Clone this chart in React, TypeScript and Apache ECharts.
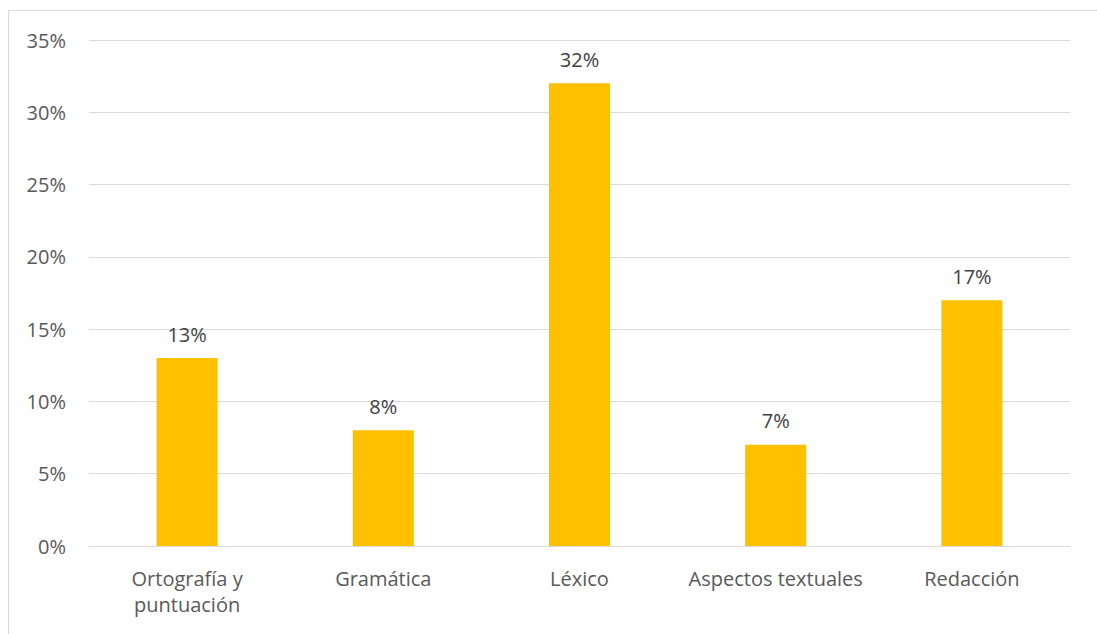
import React, { useEffect, useRef } from "react";
import * as echarts from "echarts";

const categories = ["Ortografía y\npuntuación", "Gramática", "Léxico", "Aspectos textuales", "Redacción"];
const values = [13, 8, 32, 7, 17];
const yTicks = [0, 5, 10, 15, 20, 25, 30, 35];

export default function App() {
  const ref = useRef<HTMLDivElement>(null);
  useEffect(() => {
    if (!ref.current) return;
    const chart = echarts.init(ref.current, undefined, { renderer: "svg" });
    const font = "'Open Sans', 'Noto Sans', sans-serif";
    chart.setOption({
      animation: false,
      textStyle: { fontFamily: font },
      graphic: [
        {
          type: "line",
          shape: { x1: 8.5, y1: 10.5, x2: 1097, y2: 10.5 },
          style: { stroke: "#d9d9d9", lineWidth: 1 },
          silent: true,
        },
        {
          type: "line",
          shape: { x1: 8.5, y1: 10.5, x2: 8.5, y2: 634 },
          style: { stroke: "#d9d9d9", lineWidth: 1 },
          silent: true,
        },
      ],
      grid: { left: 89, right: 27, top: 40, bottom: 88, containLabel: false },
      xAxis: {
        type: "category",
        data: categories,
        axisTick: { show: false },
        axisLine: { lineStyle: { color: "#d9d9d9", width: 1 } },
        axisLabel: {
          color: "#595959",
          fontSize: 20,
          fontFamily: font,
          margin: 19,
          lineHeight: 26,
          interval: 0,
        },
      },
      yAxis: {
        type: "value",
        min: 0,
        max: 35,
        interval: 5,
        axisLine: { show: false },
        axisTick: { show: false },
        splitLine: { lineStyle: { color: "#d9d9d9", width: 1 } },
        axisLabel: {
          color: "#595959",
          fontSize: 20,
          fontFamily: font,
          margin: 23,
          formatter: (v: number) => (yTicks.includes(v) ? v + "%" : ""),
        },
      },
      series: [
        {
          type: "bar",
          data: values,
          barWidth: 61,
          itemStyle: { color: "#ffc000" },
          label: {
            show: true,
            position: "top",
            distance: 14,
            color: "#404040",
            fontSize: 20,
            fontFamily: font,
            formatter: (p: any) => p.value + "%",
          },
        },
      ],
    });
    return () => chart.dispose();
  }, []);
  return (
    <div
      ref={ref}
      style={{ position: "fixed", left: 0, top: 0, width: 1097, height: 634, background: "#fff" }}
    />
  );
}
